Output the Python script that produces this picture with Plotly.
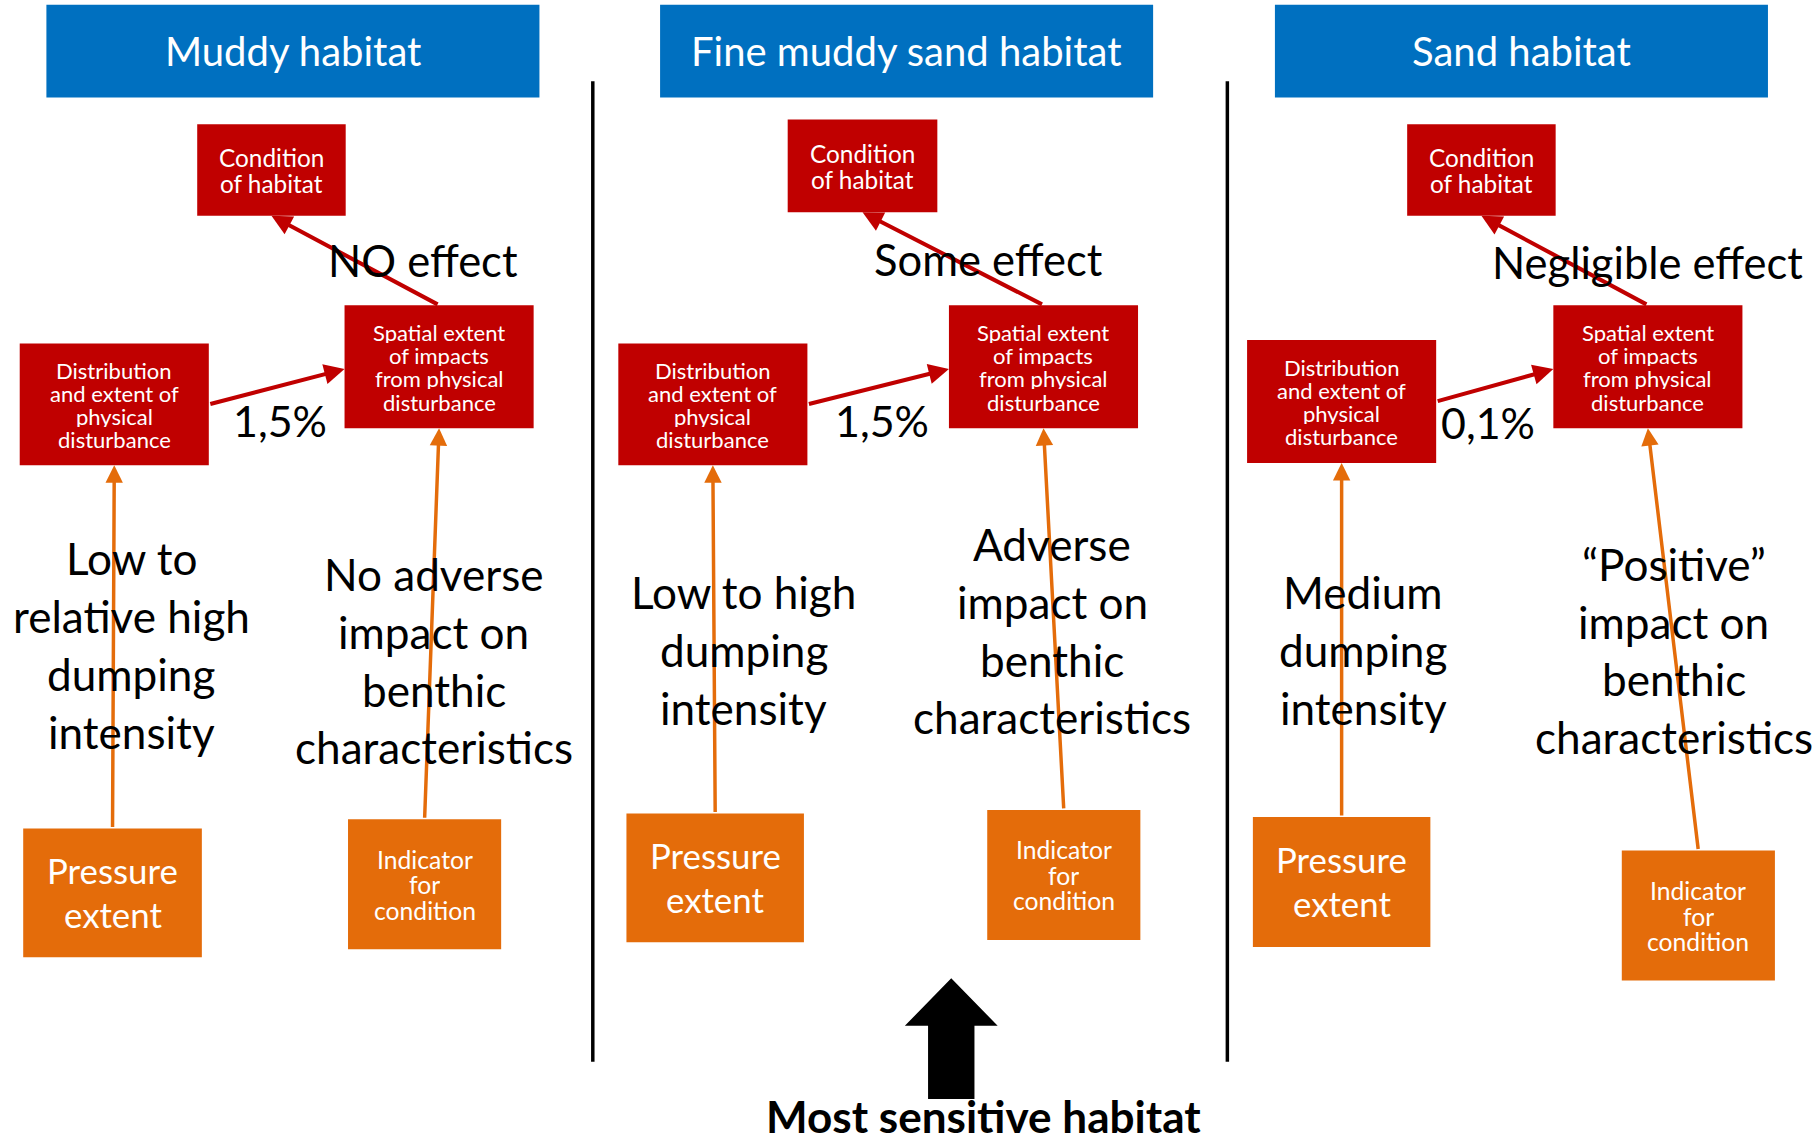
import plotly.graph_objects as go

# ---------------- data (text content) ----------------
habitats = ["Muddy habitat", "Fine muddy sand habitat", "Sand habitat"]
effects = ["NO effect", "Some effect", "Negligible effect"]
percentages = ["1,5%", "1,5%", "0,1%"]
pressure_texts = [
    ["Low to", "relative high", "dumping", "intensity"],
    ["Low to high", "dumping", "intensity"],
    ["Medium", "dumping", "intensity"],
]
impact_texts = [
    ["No adverse", "impact on", "benthic", "characteristics"],
    ["Adverse", "impact on", "benthic", "characteristics"],
    ["\u201cPositive\u201d", "impact on", "benthic", "characteristics"],
]
condition_label = ["Condition", "of habitat"]
spatial_label = ["Spatial extent", "of impacts", "from physical", "disturbance"]
distribution_label = ["Distribution", "and extent of", "physical", "disturbance"]
pressure_label = ["Pressure", "extent"]
indicator_label = ["Indicator", "for", "condition"]
footer_label = "Most sensitive habitat"

# ---------------- layout geometry (reference units, 1568 x 985) ----------------
W, H = 1568, 985
S = 1819 / 1568

header_boxes = [(40, 465, 4, 84), (569, 994, 4, 84), (1099, 1524, 4, 84)]
condition_boxes = [(170, 298, 107, 186), (679, 808, 103, 183), (1213, 1341, 107, 186)]
spatial_boxes = [(297, 460, 263, 369), (818, 981, 263, 369), (1339, 1502, 263, 369)]
distribution_boxes = [(17, 180, 296, 401), (533, 696, 296, 401), (1075, 1238, 293, 399)]
pressure_boxes = [(20, 174, 714, 825), (540, 693, 701, 812), (1080, 1233, 704, 816)]
indicator_boxes = [(300, 432, 706, 818), (851, 983, 698, 810), (1398, 1530, 733, 845)]
effect_pos = [(365, 224), (852, 223), (1420, 226)]
pct_pos = [(241, 362), (760, 362), (1283, 364)]
pressure_text_pos = [(113, 481), (641, 510), (1175, 510)]
impact_text_pos = [(374, 495), (907, 469), (1443, 486)]
divider_x = [511, 1058]

BLUE = "#0070C0"
RED = "#C00000"
ORANGE = "#E46C0A"
FONT = "Lato"

fig = go.Figure()
shapes = []
ann = []


def box(b, color):
    x0, x1, y0, y1 = b
    shapes.append(dict(type="rect", xref="x", yref="y", x0=x0, x1=x1, y0=y0, y1=y1,
                       fillcolor=color, line=dict(width=0), layer="below"))


def lines(texts, cx, y0, step, size, color="white", bold=False, box_h=None):
    for i, t in enumerate(texts):
        a = dict(x=cx, y=y0 + i * step, xref="x", yref="y", text=("<b>%s</b>" % t) if bold else t,
                 showarrow=False, xanchor="center", yanchor="middle", valign="middle",
                 font=dict(family=FONT, size=size * S, color=color))
        if box_h is not None:
            a["height"] = box_h * S
        ann.append(a)


def box_text(b, texts, step, size):
    x0, x1, y0, y1 = b
    cy = (y0 + y1) / 2
    start = cy - step * (len(texts) - 1) / 2
    lines(texts, (x0 + x1) / 2, start, step, size, box_h=step - 1)


def arrow(head, tail, color, width):
    ann.append(dict(x=head[0], y=head[1], ax=tail[0], ay=tail[1], xref="x", yref="y",
                    axref="x", ayref="y", text="", showarrow=True, arrowhead=2,
                    arrowsize=1.0, arrowwidth=width * S, arrowcolor=color,
                    standoff=0, startstandoff=0))


for i in range(3):
    hb = header_boxes[i]
    box(hb, BLUE)
    lines([habitats[i]], (hb[0] + hb[1]) / 2, (hb[2] + hb[3]) / 2, 0, 34.5)

    cb, sb, db, pb, ib = condition_boxes[i], spatial_boxes[i], distribution_boxes[i], pressure_boxes[i], indicator_boxes[i]
    for b, c in [(cb, RED), (sb, RED), (db, RED), (pb, ORANGE), (ib, ORANGE)]:
        box(b, c)
    box_text(cb, condition_label, 22, 21)
    box_text(sb, spatial_label, 20, 19)
    box_text(db, distribution_label, 20, 19)
    box_text(pb, pressure_label, 38, 30)
    box_text(ib, indicator_label, 22, 21.3)

    # arrows
    scx = (sb[0] + sb[1]) / 2
    ccx = (cb[0] + cb[1]) / 2
    arrow((ccx, cb[3]), (scx, sb[2]), RED, 3.5)
    dy = (db[2] + db[3]) / 2
    arrow((sb[0], sb[2] + 55), (db[1], dy), RED, 3.5)
    dcx = (db[0] + db[1]) / 2
    pcx = (pb[0] + pb[1]) / 2
    arrow((dcx, db[3]), (pcx, pb[2]), ORANGE, 3)
    icx = (ib[0] + ib[1]) / 2
    arrow((scx, sb[3]), (icx, ib[2]), ORANGE, 3)

    lines([effects[i]], effect_pos[i][0], effect_pos[i][1], 0, 37.5, color="black")
    lines([percentages[i]], pct_pos[i][0], pct_pos[i][1], 0, 37, color="black")
    lines(pressure_texts[i], pressure_text_pos[i][0], pressure_text_pos[i][1], 50, 38, color="black", box_h=48)
    lines(impact_texts[i], impact_text_pos[i][0], impact_text_pos[i][1], 49.7, 38, color="black", box_h=48)

for x in divider_x:
    shapes.append(dict(type="line", xref="x", yref="y", x0=x, x1=x, y0=70, y1=915,
                       line=dict(color="black", width=3 * S)))

# block arrow
shapes.append(dict(type="path", xref="x", yref="y",
                   path="M 820 843 L 860 884 L 840 884 L 840 947 L 800 947 L 800 884 L 780 884 Z",
                   fillcolor="black", line=dict(width=0)))
lines([footer_label], 848, 962, 0, 38, color="black", bold=True, box_h=36)

fig.update_layout(
    width=1819, height=1143,
    margin=dict(l=0, r=0, t=0, b=0, pad=0),
    paper_bgcolor="white", plot_bgcolor="white",
    xaxis=dict(range=[0, W], visible=False, fixedrange=True),
    yaxis=dict(range=[H, 0], visible=False, fixedrange=True),
    shapes=shapes, annotations=ann, showlegend=False,
)
fig.write_html(
    "out.html",
    config={"displayModeBar": False, "staticPlot": True},
    post_script="document.body.style.margin='0';document.body.style.overflow='hidden';",
)
